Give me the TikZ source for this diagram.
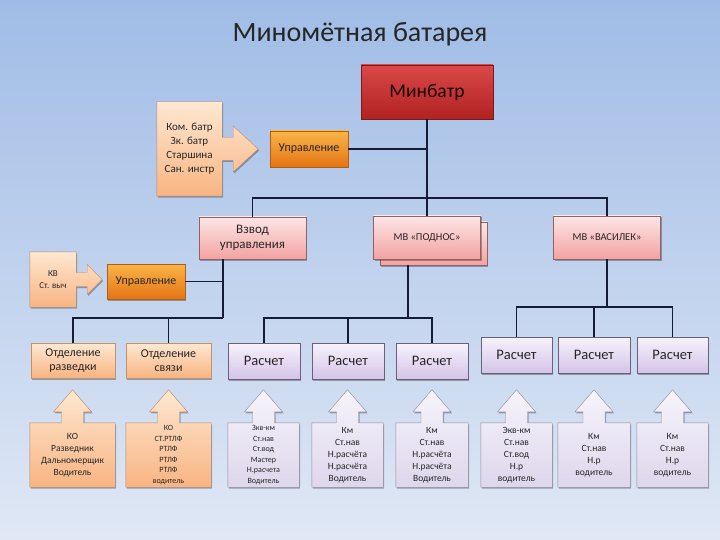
\documentclass[tikz,border=0pt]{standalone}
\usepackage{fontspec}
\setmainfont{Carlito}
\usepackage{tikz}
\usetikzlibrary{positioning, shadows, backgrounds}
\definecolor{linecol}{RGB}{20,28,56}
\definecolor{bgtop}{RGB}{160,188,230}
\definecolor{bgbot}{RGB}{224,232,245}
\definecolor{redtop}{RGB}{218,72,72}
\definecolor{redbot}{RGB}{178,34,34}
\definecolor{orgtop}{RGB}{250,180,72}
\definecolor{orgbot}{RGB}{228,116,20}
\definecolor{pinktop}{RGB}{253,230,230}
\definecolor{pinkbot}{RGB}{243,162,162}
\definecolor{lavtop}{RGB}{247,242,252}
\definecolor{lavbot}{RGB}{212,196,232}
\definecolor{peachtop}{RGB}{254,232,210}
\definecolor{peachbot}{RGB}{248,180,130}
\definecolor{paletop}{RGB}{246,244,251}
\definecolor{palebot}{RGB}{222,214,236}
\tikzstyle{shadow} = [drop shadow={shadow xshift=1pt, shadow yshift=-1.5pt, opacity=0.3, fill=black}]
\tikzstyle{box} = [rectangle, draw, line width=0.6pt, align=center, inner sep=1pt, text=black!85, shadow]
\tikzstyle{redbox} = [box, draw=redbot!70!black, top color=redtop, bottom color=redbot, text=black!90!red, font=\fontsize{19.5}{22}\selectfont]
\tikzstyle{orgbox} = [box, draw=orgbot!80!black, top color=orgtop, bottom color=orgbot, font=\fontsize{12}{14}\selectfont]
\tikzstyle{pinkbox} = [box, draw=pinkbot!60!black, top color=pinktop, bottom color=pinkbot]
\tikzstyle{calcbox} = [box, draw=lavbot!50!black, top color=lavtop, bottom color=lavbot, minimum height=36pt, font=\fontsize{14.5}{16}\selectfont]
\tikzstyle{peachbox} = [box, draw=peachbot!80!black, top color=peachtop, bottom color=peachbot, font=\fontsize{12}{14.5}\selectfont]
\tikzstyle{callout} = [rectangle, align=center, inner sep=1pt, text=black!85]
\tikzstyle{peachcall} = [top color=peachtop, bottom color=peachbot, draw=peachbot!75!black, line width=0.4pt, shadow]
\tikzstyle{palecall} = [top color=paletop, bottom color=palebot, draw=palebot!65!black, line width=0.4pt, shadow]
\tikzstyle{link} = [draw=linecol, line width=1.2pt]
\begin{document}
\begin{tikzpicture}[x=1pt, y=-1pt]
        \useasboundingbox (0,0) rectangle (720,540);

        % Title
        \node[font=\fontsize{28}{32}\selectfont, text=black!85] (title) at (360,34) {Миномётная батарея};

        % Minbatr
        \node[redbox, minimum width=132pt, minimum height=54pt] (minbatr) at (427,92) {Минбатр};

        % Command group
        \node[callout, minimum width=65pt, minimum height=94pt, font=\fontsize{11}{14}\selectfont] (kom) at (189.5,149) {Ком. батр\\Зк. батр\\Старшина\\Сан. инстр};
        \node[orgbox, minimum width=78pt, minimum height=36pt] (upr1) at (309,149) {Управление};

        % Platoons
        \node[pinkbox, minimum width=107pt, minimum height=42pt, font=\fontsize{13}{15}\selectfont] (vzvod) at (252.5,238) {Взвод\\управления};
        \node[pinkbox, minimum width=107pt, minimum height=43pt] (mvpodsh) at (433.5,243.5) {};
        \node[pinkbox, minimum width=107pt, minimum height=43pt, font=\fontsize{10.5}{12}\selectfont] (mvpod) at (427,237.5) {МВ «ПОДНОС»};
        \node[pinkbox, minimum width=107pt, minimum height=43pt, font=\fontsize{10.5}{12}\selectfont] (mvvas) at (607,237.5) {МВ «ВАСИЛЕК»};

        % Platoon command
        \node[callout, minimum width=46pt, minimum height=55pt, font=\fontsize{9}{12}\selectfont] (kv) at (53,279.5) {КВ\\Ст. выч};
        \node[orgbox, minimum width=78pt, minimum height=35pt] (upr2) at (146,281.5) {Управление};

        % Sections
        \node[peachbox, minimum width=84pt, minimum height=35pt] (otd1) at (73,360.5) {Отделение\\разведки};
        \node[peachbox, minimum width=85pt, minimum height=35pt] (otd2) at (168.5,360.5) {Отделение\\связи};
        \node[calcbox, minimum width=72pt] (r1) at (264,361) {Расчет};
        \node[calcbox, minimum width=72pt] (r2) at (348,361) {Расчет};
        \node[calcbox, minimum width=72pt] (r3) at (432,361) {Расчет};
        \node[calcbox, minimum width=71pt] (r4) at (516.5,355) {Расчет};
        \node[calcbox, minimum width=72pt] (r5) at (594,355) {Расчет};
        \node[calcbox, minimum width=71pt] (r6) at (672.5,355) {Расчет};

        % Crews
        \node[callout, minimum width=85pt, minimum height=64pt, font=\fontsize{9.5}{12}\selectfont] (c1) at (72.5,455) {КО\\Разведник\\Дальномерщик\\Водитель};
        \node[callout, minimum width=85pt, minimum height=64pt, font=\fontsize{8}{10.5}\selectfont] (c2) at (168.5,455) {КО\\СТ.РТЛФ\\РТЛФ\\РТЛФ\\РТЛФ\\водитель};
        \node[callout, minimum width=71pt, minimum height=64pt, font=\fontsize{8}{10.5}\selectfont] (c3) at (263.5,455) {Зкв-км\\Ст.нав\\Ст.вод\\Мастер\\Н.расчета\\Водитель};
        \node[callout, minimum width=71pt, minimum height=64pt, font=\fontsize{9.5}{12}\selectfont] (c4) at (347.5,455) {Км\\Ст.нав\\Н.расчёта\\Н.расчёта\\Водитель};
        \node[callout, minimum width=72pt, minimum height=64pt, font=\fontsize{9.5}{12}\selectfont] (c5) at (432,455) {Км\\Ст.нав\\Н.расчёта\\Н.расчёта\\Водитель};
        \node[callout, minimum width=71pt, minimum height=64pt, font=\fontsize{9.5}{12}\selectfont] (c6) at (516.5,455) {Экв-км\\Ст.нав\\Ст.вод\\Н.р\\водитель};
        \node[callout, minimum width=72pt, minimum height=64pt, font=\fontsize{9.5}{12}\selectfont] (c7) at (594,455) {Км\\Ст.нав\\Н.р\\водитель};
        \node[callout, minimum width=71pt, minimum height=64pt, font=\fontsize{9.5}{12}\selectfont] (c8) at (672.5,455) {Км\\Ст.нав\\Н.р\\водитель};

        % Background and callout arrows
        \begin{scope}[on background layer]
            \shade[top color=bgtop, bottom color=bgbot] (0,0) rectangle (720,540);
            \path[peachcall] (kom.north west) -- (kom.north east) -- ([yshift=11.5pt]kom.east) -- ++(11pt,0pt) -- ++(0pt,11.5pt) -- ++(25pt,-23pt) -- ++(-25pt,-23pt) -- ++(0pt,11.5pt) -- ([yshift=-11.5pt]kom.east) -- (kom.south east) -- (kom.south west) -- cycle;
            \path[peachcall] (kv.north west) -- (kv.north east) -- ([yshift=7pt]kv.east) -- ++(11pt,0pt) -- ++(0pt,8pt) -- ++(15pt,-15pt) -- ++(-15pt,-15pt) -- ++(0pt,8pt) -- ([yshift=-7pt]kv.east) -- (kv.south east) -- (kv.south west) -- cycle;
            \foreach \n/\c in {c1/peachcall, c2/peachcall, c3/palecall, c4/palecall, c5/palecall, c6/palecall, c7/palecall, c8/palecall}
                \path[\c] (\n.south west) -- (\n.north west) -- ([xshift=-11pt]\n.north) -- ++(0pt,11pt) -- ++(-8pt,0pt) -- ++(19pt,22pt) -- ++(19pt,-22pt) -- ++(-8pt,0pt) -- ([xshift=11pt]\n.north) -- (\n.north east) -- (\n.south east) -- cycle;
        \end{scope}

        % Links
        \coordinate (bus1) at (427,198);
        \coordinate (vzdown) at (223,259);
        \coordinate (bus2) at (223,318);
        \coordinate (bus3) at (408,318);
        \coordinate (bus4) at (607,307);
        \draw[link] (minbatr.south) -- (mvpod.north);
        \draw[link] (upr1.east) -- (upr1.east -| minbatr.south);
        \draw[link] (vzvod.north) |- (bus1) -| (mvvas.north);
        \draw[link] (vzdown) -- (bus2);
        \draw[link] (upr2.east) -- (upr2.east -| vzdown);
        \draw[link] (otd1.north) |- (bus2);
        \draw[link] (otd2.north) -- (otd2.north |- bus2);
        \draw[link] (mvpodsh.south -| bus3) -- (bus3);
        \draw[link] (r1.north) |- (bus3) -| (r3.north);
        \draw[link] (r2.north) -- (r2.north |- bus3);
        \draw[link] (mvvas.south) -- (bus4);
        \draw[link] (r4.north) |- (bus4) -| (r6.north);
        \draw[link] (r5.north) -- (r5.north |- bus4);

    \end{tikzpicture}
\end{document}
